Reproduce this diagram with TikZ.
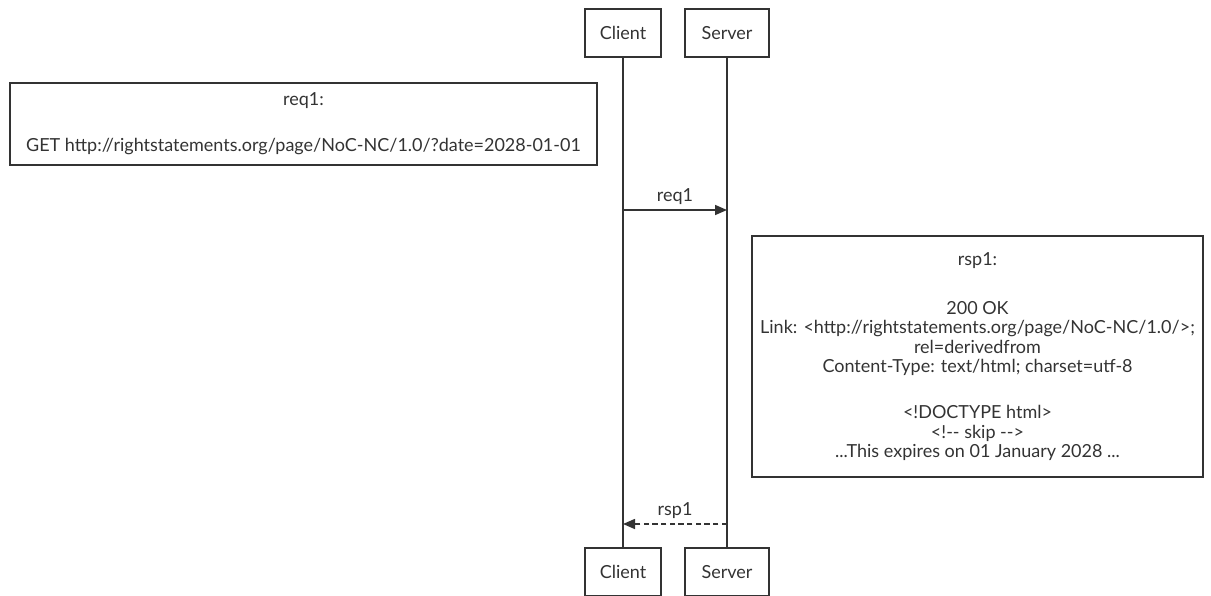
\documentclass[tikz,border=0pt]{standalone}
\usepackage{fontspec}
\setmainfont{Lato}
\usetikzlibrary{arrows.meta}
\definecolor{ink}{HTML}{333333}
\tikzset{
  txt/.style={text=ink, font=\fontsize{13.5}{14.6}\selectfont},
  actor/.style={txt, draw=ink, line width=1.5pt, minimum height=36pt, inner sep=0pt},
  note/.style={txt, draw=ink, line width=1.5pt, align=center, inner sep=0pt},
  life/.style={ink, line width=1.5pt},
  msg/.style={ink, line width=1.2pt, -{Triangle[length=9pt,width=7.5pt]}},
}
\begin{document}
\begin{tikzpicture}[x=0.75pt,y=-0.75pt]
      \useasboundingbox (0,0) rectangle (1211,596);

      % Draw the actors at top and bottom
      \node[actor, minimum width=57pt] (clientTop) at (623,33) {Client};
      \node[actor, minimum width=63pt] (serverTop) at (727,33) {Server};
      \node[actor, minimum width=57pt] (clientBot) at (623,572) {Client};
      \node[actor, minimum width=63pt] (serverBot) at (727,572) {Server};

      % Draw the lifelines
      \draw[life] (clientTop) -- (clientBot);
      \draw[life] (serverTop) -- (serverBot);

      % Draw the notes
      \node[note, minimum width=440pt, minimum height=61.5pt] (reqNote) at (303.5,124)
        {req1:\\[20pt]GET http://rightstatements.org/page/NoC-NC/1.0/?date=2028-01-01};
      \node[note, minimum width=338pt, minimum height=181pt] (rspNote) at (977.5,356.5)
        {rsp1:\\[22pt]200 OK\\Link: <http://rightstatements.org/page/NoC-NC/1.0/>;\\rel=derivedfrom\\
         Content-Type: text/html; charset=utf-8\\[20pt]<!DOCTYPE html>\\<!-{}- skip -{}->\\...This expires on 01 January 2028 ...};

      % Draw the messages
      \coordinate (reqFrom) at (clientTop |- 0,210);
      \coordinate (reqTo) at (serverTop |- 0,210);
      \coordinate (rspFrom) at (serverTop |- 0,524);
      \coordinate (rspTo) at (clientTop |- 0,524);
      \draw[msg] (reqFrom) -- node[txt, above] (reqLabel) {req1} (reqTo);
      \draw[msg, dash pattern=on 4pt off 2.5pt] (rspFrom) -- node[txt, above] (rspLabel) {rsp1} (rspTo);

\end{tikzpicture}
\end{document}
